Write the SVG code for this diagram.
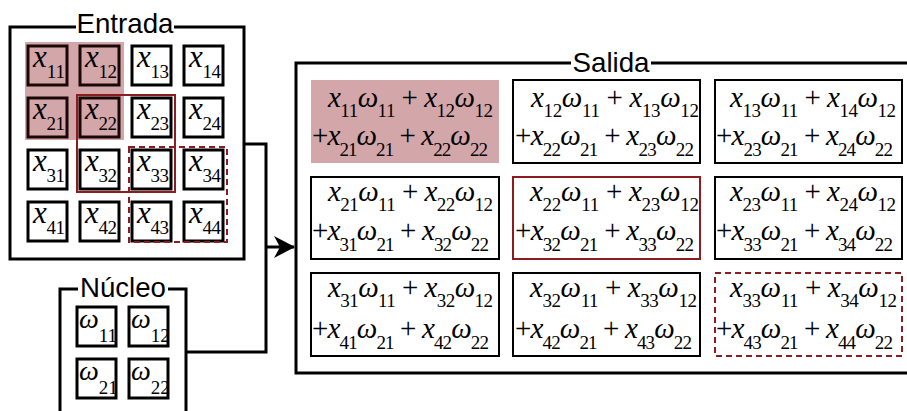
<svg xmlns="http://www.w3.org/2000/svg" width="907" height="411" viewBox="0 0 907 411">
<style>
.frame{fill:none;stroke:#000;stroke-width:3}
.cell{fill:#fff;stroke:#000;stroke-width:3}
.pcell{fill:#d3a6a9;stroke:#1a0808;stroke-width:3}
.ocell{fill:#fff;stroke:#000;stroke-width:2}
.title{font-family:"Liberation Sans","Open Sans",sans-serif;font-size:28px;fill:#000;text-anchor:middle}
.m{font-family:"Liberation Serif","DejaVu Serif",serif;font-style:italic;font-size:29px;fill:#000}
.mi{font-family:"Liberation Serif","DejaVu Serif",serif;font-style:italic;font-size:31px;fill:#000}
.mw{font-family:"Liberation Serif","DejaVu Serif",serif;font-style:italic;font-size:28px;fill:#000}
.s{font-style:normal;font-size:19px}
.r{font-style:normal}
.red{fill:none;stroke:#8e1b1f;stroke-width:2}
.dash{fill:none;stroke:#8e1b1f;stroke-width:2;stroke-dasharray:6 4}
.conn{fill:none;stroke:#000;stroke-width:3}
</style>
<defs>
<marker id="arr" markerUnits="userSpaceOnUse" markerWidth="24" markerHeight="24" viewBox="-22 -12 24 24" refX="0" refY="0" orient="auto">
<path d="M1,0 L-20,-11 L-14,0 L-20,11 Z" fill="#000"/>
</marker>
</defs>

<g id="entrada">
<path class="frame" d="M76,27 H10 V259 H244 V27 H174"/>
<text class="title" x="125" y="33" textLength="97" lengthAdjust="spacingAndGlyphs">Entrada</text>
<rect x="25" y="42" width="99" height="98" fill="#d3a6a9"/>
<g id="in-cells">
<rect class="pcell" x="28" y="46" width="39" height="39"/>
<rect class="pcell" x="80" y="46" width="39" height="39"/>
<rect class="cell" x="132" y="46" width="39" height="39"/>
<rect class="cell" x="184" y="46" width="39" height="39"/>
<rect class="pcell" x="28" y="98" width="39" height="39"/>
<rect class="pcell" x="80" y="98" width="39" height="39"/>
<rect class="cell" x="132" y="98" width="39" height="39"/>
<rect class="cell" x="184" y="98" width="39" height="39"/>
<rect class="cell" x="28" y="150" width="39" height="39"/>
<rect class="cell" x="80" y="150" width="39" height="39"/>
<rect class="cell" x="132" y="150" width="39" height="39"/>
<rect class="cell" x="184" y="150" width="39" height="39"/>
<rect class="cell" x="28" y="202" width="39" height="39"/>
<rect class="cell" x="80" y="202" width="39" height="39"/>
<rect class="cell" x="132" y="202" width="39" height="39"/>
<rect class="cell" x="184" y="202" width="39" height="39"/>
</g>
<g id="in-labels">
<text class="mi" x="33" y="67" textLength="32" lengthAdjust="spacing">x<tspan class="s" dy="11">11</tspan></text>
<text class="mi" x="85" y="67" textLength="32" lengthAdjust="spacing">x<tspan class="s" dy="11">12</tspan></text>
<text class="mi" x="137" y="67" textLength="32" lengthAdjust="spacing">x<tspan class="s" dy="11">13</tspan></text>
<text class="mi" x="189" y="67" textLength="32" lengthAdjust="spacing">x<tspan class="s" dy="11">14</tspan></text>
<text class="mi" x="33" y="119" textLength="32" lengthAdjust="spacing">x<tspan class="s" dy="11">21</tspan></text>
<text class="mi" x="85" y="119" textLength="32" lengthAdjust="spacing">x<tspan class="s" dy="11">22</tspan></text>
<text class="mi" x="137" y="119" textLength="32" lengthAdjust="spacing">x<tspan class="s" dy="11">23</tspan></text>
<text class="mi" x="189" y="119" textLength="32" lengthAdjust="spacing">x<tspan class="s" dy="11">24</tspan></text>
<text class="mi" x="33" y="171" textLength="32" lengthAdjust="spacing">x<tspan class="s" dy="11">31</tspan></text>
<text class="mi" x="85" y="171" textLength="32" lengthAdjust="spacing">x<tspan class="s" dy="11">32</tspan></text>
<text class="mi" x="137" y="171" textLength="32" lengthAdjust="spacing">x<tspan class="s" dy="11">33</tspan></text>
<text class="mi" x="189" y="171" textLength="32" lengthAdjust="spacing">x<tspan class="s" dy="11">34</tspan></text>
<text class="mi" x="33" y="223" textLength="32" lengthAdjust="spacing">x<tspan class="s" dy="11">41</tspan></text>
<text class="mi" x="85" y="223" textLength="32" lengthAdjust="spacing">x<tspan class="s" dy="11">42</tspan></text>
<text class="mi" x="137" y="223" textLength="32" lengthAdjust="spacing">x<tspan class="s" dy="11">43</tspan></text>
<text class="mi" x="189" y="223" textLength="32" lengthAdjust="spacing">x<tspan class="s" dy="11">44</tspan></text>
</g>
<rect class="red" x="77" y="95" width="98" height="97"/>
<rect class="dash" x="129" y="147" width="98" height="95"/>
</g>

<g id="nucleo">
<path class="frame" d="M78,289 H60 V415 M186,415 V289 H168"/>
<text class="title" x="123" y="297" textLength="86" lengthAdjust="spacingAndGlyphs">Núcleo</text>
<rect class="cell" x="77" y="307" width="39" height="39"/>
<rect class="cell" x="129" y="307" width="39" height="39"/>
<rect class="cell" x="77" y="359" width="39" height="39"/>
<rect class="cell" x="129" y="359" width="39" height="39"/>
<text class="mw" x="79" y="328">ω<tspan class="s" dy="14">11</tspan></text>
<text class="mw" x="131" y="328">ω<tspan class="s" dy="14">12</tspan></text>
<text class="mw" x="79" y="380">ω<tspan class="s" dy="14">21</tspan></text>
<text class="mw" x="131" y="380">ω<tspan class="s" dy="14">22</tspan></text>
</g>

<g id="connectors">
<path class="conn" d="M244,144 H266 V352 H186"/>
<path class="conn" d="M266,247 H294" marker-end="url(#arr)"/>
</g>

<g id="salida">
<path class="frame" d="M571,63 H296 V373 H910 M910,63 H651"/>
<text class="title" x="611" y="72" textLength="77" lengthAdjust="spacingAndGlyphs">Salida</text>

<g id="o11">
<rect x="311" y="80" width="188" height="83" fill="#d3a6a9"/>
<text class="m" x="328" y="107" textLength="165" lengthAdjust="spacing">x<tspan class="s" dy="10">11</tspan><tspan dy="-10">ω</tspan><tspan class="s" dy="10">11</tspan><tspan class="r" dy="-10"> + </tspan>x<tspan class="s" dy="10">12</tspan><tspan dy="-10">ω</tspan><tspan class="s" dy="10">12</tspan></text>
<text class="m" x="312" y="145" textLength="176" lengthAdjust="spacing"><tspan class="r">+</tspan>x<tspan class="s" dy="11">21</tspan><tspan dy="-11">ω</tspan><tspan class="s" dy="11">21</tspan><tspan class="r" dy="-11"> + </tspan>x<tspan class="s" dy="11">22</tspan><tspan dy="-11">ω</tspan><tspan class="s" dy="11">22</tspan></text>
</g>
<g id="o12">
<rect class="ocell" x="513" y="80" width="187" height="83"/>
<text class="m" x="531" y="107" textLength="168" lengthAdjust="spacing">x<tspan class="s" dy="10">12</tspan><tspan dy="-10">ω</tspan><tspan class="s" dy="10">11</tspan><tspan class="r" dy="-10"> + </tspan>x<tspan class="s" dy="10">13</tspan><tspan dy="-10">ω</tspan><tspan class="s" dy="10">12</tspan></text>
<text class="m" x="515" y="145" textLength="179" lengthAdjust="spacing"><tspan class="r">+</tspan>x<tspan class="s" dy="11">22</tspan><tspan dy="-11">ω</tspan><tspan class="s" dy="11">21</tspan><tspan class="r" dy="-11"> + </tspan>x<tspan class="s" dy="11">23</tspan><tspan dy="-11">ω</tspan><tspan class="s" dy="11">22</tspan></text>
</g>
<g id="o13">
<rect class="ocell" x="715" y="80" width="187" height="83"/>
<text class="m" x="730" y="107" textLength="166" lengthAdjust="spacing">x<tspan class="s" dy="10">13</tspan><tspan dy="-10">ω</tspan><tspan class="s" dy="10">11</tspan><tspan class="r" dy="-10"> + </tspan>x<tspan class="s" dy="10">14</tspan><tspan dy="-10">ω</tspan><tspan class="s" dy="10">12</tspan></text>
<text class="m" x="716" y="145" textLength="177" lengthAdjust="spacing"><tspan class="r">+</tspan>x<tspan class="s" dy="11">23</tspan><tspan dy="-11">ω</tspan><tspan class="s" dy="11">21</tspan><tspan class="r" dy="-11"> + </tspan>x<tspan class="s" dy="11">24</tspan><tspan dy="-11">ω</tspan><tspan class="s" dy="11">22</tspan></text>
</g>

<g id="o21">
<rect class="ocell" x="311" y="177" width="188" height="82"/>
<text class="m" x="328" y="201" textLength="165" lengthAdjust="spacing">x<tspan class="s" dy="10">21</tspan><tspan dy="-10">ω</tspan><tspan class="s" dy="10">11</tspan><tspan class="r" dy="-10"> + </tspan>x<tspan class="s" dy="10">22</tspan><tspan dy="-10">ω</tspan><tspan class="s" dy="10">12</tspan></text>
<text class="m" x="312" y="240" textLength="177" lengthAdjust="spacing"><tspan class="r">+</tspan>x<tspan class="s" dy="11">31</tspan><tspan dy="-11">ω</tspan><tspan class="s" dy="11">21</tspan><tspan class="r" dy="-11"> + </tspan>x<tspan class="s" dy="11">32</tspan><tspan dy="-11">ω</tspan><tspan class="s" dy="11">22</tspan></text>
</g>
<g id="o22">
<rect class="red" x="513" y="177" width="187" height="82"/>
<text class="m" x="530" y="201" textLength="169" lengthAdjust="spacing">x<tspan class="s" dy="10">22</tspan><tspan dy="-10">ω</tspan><tspan class="s" dy="10">11</tspan><tspan class="r" dy="-10"> + </tspan>x<tspan class="s" dy="10">23</tspan><tspan dy="-10">ω</tspan><tspan class="s" dy="10">12</tspan></text>
<text class="m" x="515" y="240" textLength="179" lengthAdjust="spacing"><tspan class="r">+</tspan>x<tspan class="s" dy="11">32</tspan><tspan dy="-11">ω</tspan><tspan class="s" dy="11">21</tspan><tspan class="r" dy="-11"> + </tspan>x<tspan class="s" dy="11">33</tspan><tspan dy="-11">ω</tspan><tspan class="s" dy="11">22</tspan></text>
</g>
<g id="o23">
<rect class="ocell" x="715" y="177" width="187" height="82"/>
<text class="m" x="730" y="201" textLength="166" lengthAdjust="spacing">x<tspan class="s" dy="10">23</tspan><tspan dy="-10">ω</tspan><tspan class="s" dy="10">11</tspan><tspan class="r" dy="-10"> + </tspan>x<tspan class="s" dy="10">24</tspan><tspan dy="-10">ω</tspan><tspan class="s" dy="10">12</tspan></text>
<text class="m" x="716" y="240" textLength="177" lengthAdjust="spacing"><tspan class="r">+</tspan>x<tspan class="s" dy="11">33</tspan><tspan dy="-11">ω</tspan><tspan class="s" dy="11">21</tspan><tspan class="r" dy="-11"> + </tspan>x<tspan class="s" dy="11">34</tspan><tspan dy="-11">ω</tspan><tspan class="s" dy="11">22</tspan></text>
</g>

<g id="o31">
<rect class="ocell" x="311" y="273" width="188" height="83"/>
<text class="m" x="328" y="297" textLength="165" lengthAdjust="spacing">x<tspan class="s" dy="10">31</tspan><tspan dy="-10">ω</tspan><tspan class="s" dy="10">11</tspan><tspan class="r" dy="-10"> + </tspan>x<tspan class="s" dy="10">32</tspan><tspan dy="-10">ω</tspan><tspan class="s" dy="10">12</tspan></text>
<text class="m" x="312" y="338" textLength="177" lengthAdjust="spacing"><tspan class="r">+</tspan>x<tspan class="s" dy="11">41</tspan><tspan dy="-11">ω</tspan><tspan class="s" dy="11">21</tspan><tspan class="r" dy="-11"> + </tspan>x<tspan class="s" dy="11">42</tspan><tspan dy="-11">ω</tspan><tspan class="s" dy="11">22</tspan></text>
</g>
<g id="o32">
<rect class="ocell" x="513" y="273" width="187" height="83"/>
<text class="m" x="530" y="297" textLength="167" lengthAdjust="spacing">x<tspan class="s" dy="10">32</tspan><tspan dy="-10">ω</tspan><tspan class="s" dy="10">11</tspan><tspan class="r" dy="-10"> + </tspan>x<tspan class="s" dy="10">33</tspan><tspan dy="-10">ω</tspan><tspan class="s" dy="10">12</tspan></text>
<text class="m" x="515" y="338" textLength="177" lengthAdjust="spacing"><tspan class="r">+</tspan>x<tspan class="s" dy="11">42</tspan><tspan dy="-11">ω</tspan><tspan class="s" dy="11">21</tspan><tspan class="r" dy="-11"> + </tspan>x<tspan class="s" dy="11">43</tspan><tspan dy="-11">ω</tspan><tspan class="s" dy="11">22</tspan></text>
</g>
<g id="o33">
<rect class="dash" x="715" y="273" width="187" height="83"/>
<text class="m" x="730" y="297" textLength="167" lengthAdjust="spacing">x<tspan class="s" dy="10">33</tspan><tspan dy="-10">ω</tspan><tspan class="s" dy="10">11</tspan><tspan class="r" dy="-10"> + </tspan>x<tspan class="s" dy="10">34</tspan><tspan dy="-10">ω</tspan><tspan class="s" dy="10">12</tspan></text>
<text class="m" x="716" y="338" textLength="177" lengthAdjust="spacing"><tspan class="r">+</tspan>x<tspan class="s" dy="11">43</tspan><tspan dy="-11">ω</tspan><tspan class="s" dy="11">21</tspan><tspan class="r" dy="-11"> + </tspan>x<tspan class="s" dy="11">44</tspan><tspan dy="-11">ω</tspan><tspan class="s" dy="11">22</tspan></text>
</g>
</g>
</svg>
